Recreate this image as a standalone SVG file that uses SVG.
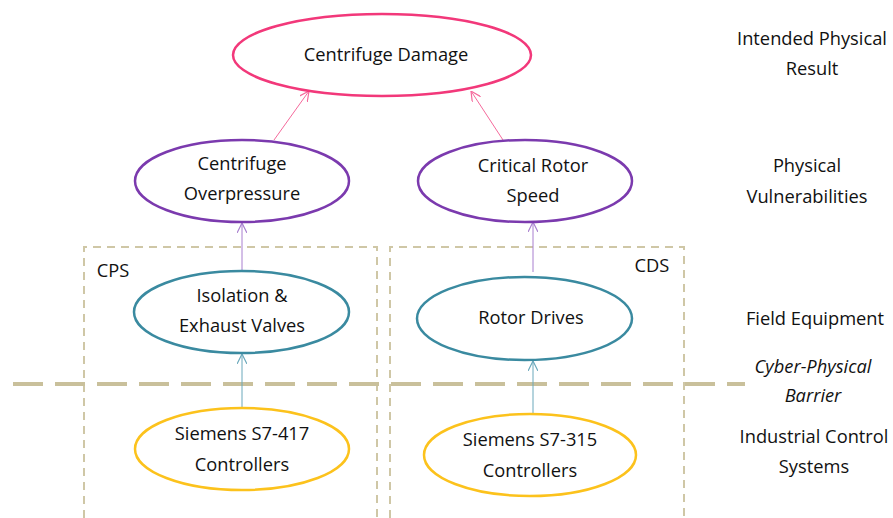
<svg xmlns="http://www.w3.org/2000/svg" width="893" height="518" viewBox="0 0 893 518">
<style>
text{font-family:"Open Sans","Liberation Sans",sans-serif;font-size:18.3px;fill:#111;text-anchor:middle}
.it{font-style:italic}
.el{fill:#fff;stroke-width:2.5}
.pink{stroke:#f2387a}
.purple{stroke:#7b3aae}
.teal{stroke:#3a8aa0}
.yellow{stroke:#fcc21c}
.box{fill:none;stroke:#cfc7a6;stroke-width:2;stroke-dasharray:8 6}
.barrier{fill:none;stroke:#c9c09b;stroke-width:4;stroke-dasharray:30 12}
.c{fill:none;stroke-width:1}
</style>
<defs>
<marker id="ap" viewBox="0 0 10 10" refX="10" refY="5" markerWidth="10" markerHeight="10" markerUnits="userSpaceOnUse" orient="auto"><path d="M0,0 L10,5 L0,10" fill="none" stroke="#f56a9c" stroke-width="1.2"/></marker>
<marker id="au" viewBox="0 0 10 10" refX="10" refY="5" markerWidth="10" markerHeight="10" markerUnits="userSpaceOnUse" orient="auto"><path d="M0,0 L10,5 L0,10" fill="none" stroke="#a87fcf" stroke-width="1.2"/></marker>
<marker id="at" viewBox="0 0 10 10" refX="10" refY="5" markerWidth="10" markerHeight="10" markerUnits="userSpaceOnUse" orient="auto"><path d="M0,0 L10,5 L0,10" fill="none" stroke="#6aa8bb" stroke-width="1.2"/></marker>
</defs>
<g id="groups">
<path class="box" d="M84,518 V247 H377 V518"/>
<path class="box" d="M390,518 V247 H684 V518"/>
<text x="113" y="277">CPS</text>
<text x="652" y="272">CDS</text>
<line class="barrier" x1="13" y1="384" x2="745" y2="384"/>
</g>
<g id="connectors">
<line class="c" stroke="#f56a9c" x1="274" y1="140" x2="309" y2="91" marker-end="url(#ap)"/>
<line class="c" stroke="#f56a9c" x1="503" y1="140" x2="471" y2="91" marker-end="url(#ap)"/>
<line class="c" stroke="#a87fcf" x1="242" y1="271" x2="242" y2="223" marker-end="url(#au)"/>
<line class="c" stroke="#a87fcf" x1="533" y1="272" x2="533" y2="222" marker-end="url(#au)"/>
<line class="c" stroke="#6aa8bb" x1="242" y1="408" x2="242" y2="354" marker-end="url(#at)"/>
<line class="c" stroke="#6aa8bb" x1="533" y1="414" x2="533" y2="361" marker-end="url(#at)"/>
</g>
<g id="n-damage"><ellipse class="el pink" cx="382" cy="55" rx="149" ry="41"/><text x="386" y="61">Centrifuge Damage</text></g>
<g id="n-overpressure"><ellipse class="el purple" cx="242" cy="181" rx="107" ry="41"/><text x="242" y="170">Centrifuge</text><text x="242" y="200">Overpressure</text></g>
<g id="n-rotorspeed"><ellipse class="el purple" cx="525" cy="181" rx="107" ry="41"/><text x="533" y="172">Critical Rotor</text><text x="533" y="202">Speed</text></g>
<g id="n-valves"><ellipse class="el teal" cx="241.5" cy="312" rx="107.5" ry="41"/><text x="242" y="302">Isolation &amp;</text><text x="242" y="332">Exhaust Valves</text></g>
<g id="n-drives"><ellipse class="el teal" cx="524.5" cy="318.5" rx="107.5" ry="41.5"/><text x="531" y="324">Rotor Drives</text></g>
<g id="n-s7417"><ellipse class="el yellow" cx="242" cy="449" rx="107" ry="41"/><text x="242" y="440">Siemens S7-417</text><text x="242" y="471">Controllers</text></g>
<g id="n-s7315"><ellipse class="el yellow" cx="530" cy="455" rx="106" ry="41"/><text x="530" y="446">Siemens S7-315</text><text x="530" y="477">Controllers</text></g>
<g id="labels">
<text x="812" y="45">Intended Physical</text><text x="812" y="75">Result</text>
<text x="807" y="172">Physical</text><text x="807" y="203">Vulnerabilities</text>
<text x="815" y="325">Field Equipment</text>
<text class="it" x="813" y="373">Cyber-Physical</text><text class="it" x="813" y="402">Barrier</text>
<text x="814" y="443">Industrial Control</text><text x="814" y="473">Systems</text>
</g>
</svg>
